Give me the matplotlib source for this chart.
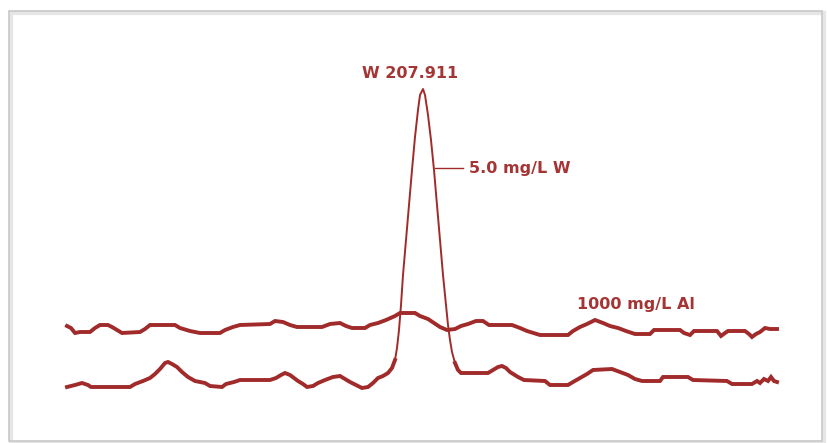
import numpy as np
import matplotlib.pyplot as plt
from matplotlib.patches import Rectangle

# trace positions (x across, y down the page)
al_x = [67, 71, 75, 80, 90, 95, 100, 108, 112, 117, 122, 140, 145, 150, 175, 180, 190, 200,
        220, 225, 233, 240, 270, 275, 283, 290, 297, 322, 330, 340, 346, 352, 365, 370, 378,
        386, 395, 400, 415, 420, 428, 434, 440, 447, 455, 461, 468, 476, 483, 489, 512, 520,
        527, 540, 568, 573, 580, 587, 595, 603, 610, 618, 626, 635, 650, 654, 680, 684, 690,
        694, 717, 721, 725, 728, 745, 749, 752, 756, 760, 765, 770, 777]
al_y = [326, 328, 333, 332, 332, 328, 325, 325, 327, 330, 333, 332, 329, 325, 325, 328, 331, 333,
        333, 330, 327, 325, 324, 321, 322, 325, 327, 327, 324, 323, 326, 328, 328, 325, 323,
        320, 316, 313, 313, 316, 319, 323, 327, 330, 329, 326, 324, 321, 321, 325, 325, 328,
        331, 335, 335, 331, 327, 324, 320, 323, 326, 328, 331, 334, 334, 330, 330, 333, 335,
        331, 331, 336, 333, 331, 331, 334, 337, 334, 332, 328, 329, 329]

w_x = [67, 75, 82, 88, 91, 130, 135, 143, 150, 155, 160, 165, 168, 172, 177, 182, 188, 195,
       205, 210, 222, 226, 234, 240, 270, 276, 281, 285, 290, 294, 298, 303, 307, 313, 318,
       325, 333, 340, 345, 350, 356, 362, 368, 373, 378, 383, 388, 392, 395, 397, 399, 401,
       403, 406, 409, 412, 415, 418, 420, 423, 425, 428, 431, 434, 437, 440, 443, 446, 448,
       450, 452, 455, 458, 461, 488, 493, 498, 502, 506, 510, 518, 524, 545, 550, 568, 573,
       580, 587, 593, 612, 620, 628, 635, 642, 660, 663, 688, 693, 727, 732, 752, 757, 760,
       764, 768, 771, 774, 777]
w_y = [387, 385, 383, 385, 387, 387, 384, 381, 378, 374, 369, 363, 362, 364, 367, 372, 377, 381,
       383, 386, 387, 384, 382, 380, 380, 378, 375, 373, 375, 378, 381, 384, 387, 386, 383,
       380, 377, 376, 379, 382, 385, 388, 387, 383, 378, 376, 373, 368, 360, 348, 330, 305,
       275, 240, 205, 170, 137, 110, 95, 89, 95, 115, 140, 170, 205, 240, 275, 305, 325,
       340, 352, 363, 370, 373, 373, 370, 367, 366, 368, 372, 377, 380, 381, 385, 385, 382,
       378, 374, 370, 369, 372, 375, 379, 381, 381, 377, 377, 380, 381, 384, 384, 381, 383,
       379, 381, 377, 381, 382]

peak_label = "W 207.911"
w_label = "5.0 mg/L W"
al_label = "1000 mg/L Al"

red = "#a12a2a"
txt = "#a53535"

fig = plt.figure(figsize=(8.29, 4.43), dpi=100)
ax = fig.add_axes([0, 0, 1, 1])
ax.set_xlim(0, 829)
ax.set_ylim(443, 0)
ax.axis("off")

# frame with a soft shadow
ax.add_patch(Rectangle((11, 13), 813, 430, fill=False, ec="#e6e6e6", lw=3))
ax.add_patch(Rectangle((9, 11), 813, 430, fill=False, ec="#c9c9c9", lw=1.2))

wx = np.array(w_x)
wy = np.array(w_y)
ax.plot(al_x, al_y, color=red, lw=2.8, solid_joinstyle="miter")
ax.plot(wx, wy, color=red, lw=1.4)
# baseline parts of the W trace drawn heavier, like the original
left = wx <= 395
right = wx >= 455
ax.plot(wx[left], wy[left], color=red, lw=2.8, solid_joinstyle="miter")
ax.plot(wx[right], wy[right], color=red, lw=2.8, solid_joinstyle="miter")

font = dict(family="DejaVu Sans", weight="bold", size=11.5, color=txt)
ax.text(410, 73, peak_label, ha="center", va="center", **font)
ax.plot([435, 463], [168, 168], color=red, lw=1.0)
ax.text(469, 168, w_label, ha="left", va="center", **font)
ax.text(577, 305, al_label, ha="left", va="center", **font)

fig.savefig("out.png", dpi=100)
